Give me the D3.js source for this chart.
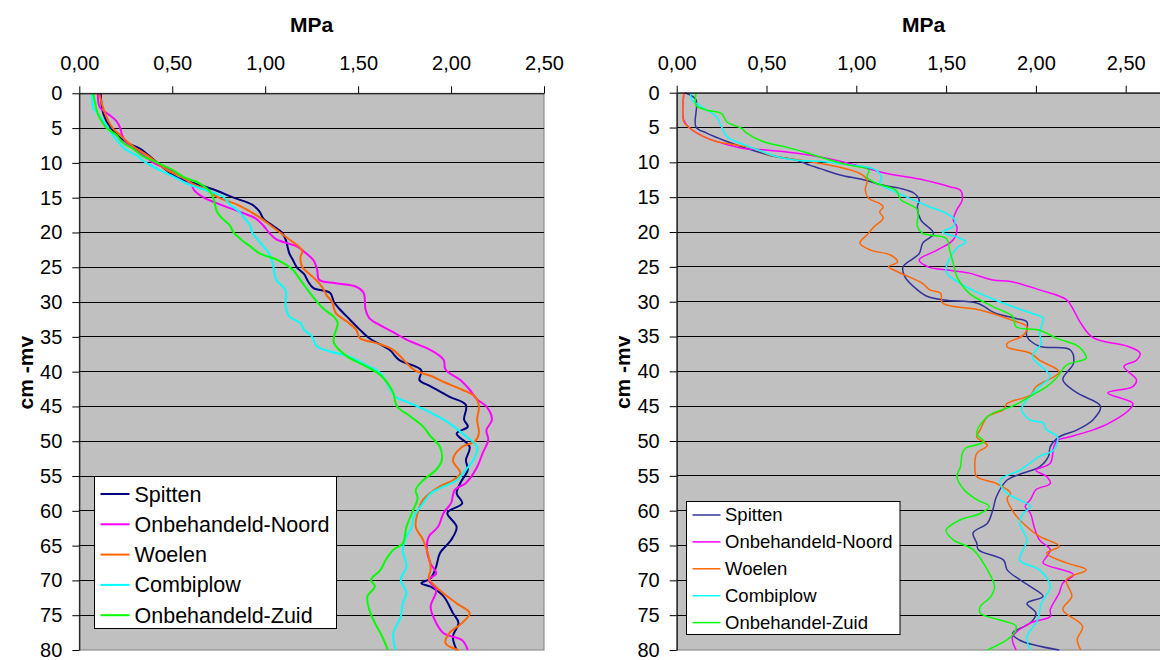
<!DOCTYPE html>
<html lang="en">
<head>
    <meta charset="UTF-8">
    <title>Penetrometer profiles</title>
    <script src="https://d3js.org/d3.v7.min.js"></script>
    <style>
        body {
            margin: 0;
            background: #fff;
            font-family: Arial, "Liberation Sans", sans-serif;
        }
        svg text {
            fill: #000;
        }
    </style>
</head>
<body>
    <svg id="chart" width="1160" height="660"></svg>

    <script>
        // depth (cm -mv) vs resistance (MPa)
        const seriesNames = ["Spitten", "Onbehandeld-Noord", "Woelen", "Combiplow", "Onbehandeld-Zuid"];
        const seriesNamesRight = ["Spitten", "Onbehandeld-Noord", "Woelen", "Combiplow", "Onbehandel-Zuid"];
        const depthTicks = d3.range(0, 81, 5);
        const depthLabels = depthTicks.map(String);
        const mpaTicks = [0, 0.5, 1, 1.5, 2, 2.5];
        const mpaLabels = ["0,00", "0,50", "1,00", "1,50", "2,00", "2,50"];

        // left panel
        const spittenL = [[0,0.115],[3,0.13],[5,0.17],[7,0.25],[8,0.33],[10,0.42],[12,0.52],[13,0.63],[14,0.74],[15,0.83],[16,0.93],[17,0.97],[18,0.99],[19,1.04],[20,1.09],[21,1.11],[22,1.12],[23,1.13],[24,1.15],[25,1.17],[26,1.21],[27,1.23],[28,1.26],[28.7,1.35],[30,1.37],[31,1.40],[32.5,1.455],[34,1.51],[35.2,1.56],[36.9,1.67],[38.3,1.72],[39.8,1.84],[41.2,1.83],[42.1,1.89],[43.6,1.99],[44.8,2.08],[46.9,2.07],[47.9,2.09],[48.9,2.03],[50.8,2.10],[52.7,2.08],[54.1,2.09],[56,2.05],[57.5,2.03],[58.9,2.06],[60.3,1.98],[62.3,2.03],[64.2,2.0],[66.1,1.94],[68,1.92],[69.7,1.89],[70.4,1.84],[70.9,1.89],[72.3,1.96],[74.7,2.01],[76.1,2.04],[78.1,2.01],[80,2.03]];
        const noordL = [[0,0.10],[2,0.11],[3,0.156],[4,0.2],[5,0.22],[6,0.23],[7,0.25],[8,0.30],[9,0.35],[10,0.40],[11,0.49],[12,0.55],[13,0.60],[14,0.62],[15,0.67],[16,0.76],[17,0.86],[18,0.95],[19,0.99],[20,1.02],[21,1.06],[22,1.17],[23,1.22],[24,1.26],[25.4,1.28],[26.8,1.29],[27.3,1.38],[27.8,1.49],[28.7,1.53],[31.1,1.54],[32.3,1.56],[33.5,1.63],[34.5,1.70],[35.4,1.76],[36.9,1.89],[38.3,1.96],[39.7,1.97],[41.2,2.05],[42.6,2.10],[44,2.14],[45,2.19],[46.9,2.22],[48.4,2.19],[49.8,2.20],[51.7,2.17],[53.7,2.14],[56,2.08],[57,2.02],[58.9,2.0],[60.3,1.96],[62.3,1.93],[63.7,1.88],[65.6,1.87],[67.6,1.89],[69,1.92],[69.9,1.88],[71.4,1.92],[73.8,1.89],[76.1,1.92],[77.6,1.96],[78.6,2.06],[80,2.09]];
        const woelenL = [[0,0.107],[3,0.14],[5,0.18],[6,0.22],[7,0.26],[8,0.31],[9,0.37],[10,0.42],[11,0.47],[12,0.55],[13,0.61],[14,0.69],[15,0.75],[16,0.85],[17,0.92],[18,0.98],[19,1.03],[20,1.08],[21,1.13],[22,1.18],[22.7,1.2],[23.5,1.19],[25,1.2],[26,1.24],[27,1.28],[28,1.31],[29,1.33],[30,1.36],[31.6,1.38],[32.8,1.44],[34,1.49],[35.2,1.51],[35.9,1.60],[36.9,1.69],[39.7,1.80],[40.7,1.90],[41.6,1.97],[42.6,2.06],[43.6,2.13],[45,2.15],[46.9,2.14],[48.8,2.15],[50,2.13],[50.8,2.06],[52.7,2.01],[54.6,2.05],[55.6,2.01],[56.5,1.94],[58.4,1.85],[60.3,1.82],[62.3,1.81],[64.2,1.85],[66.6,1.88],[68.5,1.89],[69.7,1.88],[71.4,1.94],[73.3,2.03],[74.7,2.10],[76.1,2.06],[77.6,1.99],[79,1.97],[80,2.04]];
        const combiL = [[0,0.07],[2,0.075],[3,0.10],[4,0.13],[5,0.155],[6,0.18],[7,0.21],[8,0.245],[9,0.31],[10,0.36],[11,0.43],[12,0.51],[13,0.58],[14,0.69],[15,0.78],[16,0.81],[17,0.86],[18,0.89],[19,0.92],[20,0.93],[21,0.96],[22,0.99],[23,1.02],[24.4,1.04],[26.8,1.06],[28.3,1.11],[30.6,1.11],[32.1,1.13],[33,1.19],[34,1.21],[34.9,1.25],[36.4,1.28],[37.1,1.35],[37.8,1.45],[39,1.54],[40.2,1.62],[41.4,1.65],[43.6,1.70],[44.3,1.76],[45.9,1.89],[47.4,1.99],[49.3,2.08],[50.8,2.14],[52.2,2.13],[54.1,2.08],[55.6,2.03],[56.5,1.96],[57.5,1.89],[58.9,1.85],[60.8,1.80],[62.3,1.79],[63.7,1.76],[65.6,1.74],[68,1.76],[69.9,1.73],[71.8,1.76],[73.3,1.74],[75.2,1.73],[77.6,1.69],[80,1.70]];
        const zuidL = [[0,0.075],[2,0.09],[3,0.10],[4,0.12],[5,0.147],[6,0.2],[7,0.23],[8,0.29],[9,0.34],[10,0.42],[11,0.5],[12,0.56],[13,0.65],[14,0.70],[15,0.72],[16,0.73],[17,0.74],[18,0.77],[19,0.81],[20,0.83],[21,0.87],[22,0.92],[23,0.97],[24,1.07],[25.4,1.15],[26.5,1.18],[28.3,1.23],[30,1.28],[31.1,1.32],[32.1,1.37],[33,1.39],[35,1.37],[35.9,1.37],[37.8,1.44],[38.8,1.51],[39.5,1.56],[40.5,1.62],[42.1,1.67],[43.1,1.69],[45,1.71],[46.4,1.78],[47.9,1.85],[49.3,1.89],[50.8,1.94],[52.7,1.95],[54.1,1.92],[55.6,1.85],[57,1.81],[58.2,1.82],[60.3,1.79],[62.3,1.76],[64.7,1.74],[65.6,1.69],[67,1.65],[68.5,1.62],[69.9,1.57],[70.9,1.59],[72.3,1.55],[74.2,1.56],[76.1,1.59],[78.1,1.63],[80,1.66]];

        // right panel
        const spittenR = [[0,0.046],[1,0.107],[4.9,0.107],[5.8,0.167],[7,0.28],[8,0.39],[9,0.52],[9.7,0.67],[10.4,0.74],[10.9,0.80],[11.8,0.91],[12.5,1.04],[13.3,1.15],[13.7,1.24],[14.4,1.32],[15.4,1.35],[16.4,1.34],[18.3,1.36],[20.2,1.43],[21.6,1.37],[23.1,1.35],[25,1.26],[26.4,1.27],[28.3,1.34],[29.3,1.40],[29.8,1.50],[30.2,1.67],[31.7,1.78],[32.4,1.89],[32.9,1.95],[35,1.95],[36.4,2.02],[36.9,2.19],[38.8,2.21],[41.2,2.15],[43.1,2.23],[45,2.36],[46.9,2.32],[48.4,2.23],[49.4,2.13],[50.8,2.08],[52.2,2.07],[53.7,2.02],[54.6,1.93],[55.6,1.84],[58,1.78],[59.9,1.76],[61.8,1.73],[63.2,1.65],[64.6,1.67],[65.6,1.68],[67.1,1.82],[68.5,1.84],[69.9,1.91],[70.9,1.97],[72.3,2.04],[73.3,1.95],[74.7,2.00],[76.1,1.97],[77.6,1.87],[78.6,1.91],[80,2.13]];
        const noordR = [[0,0.04],[4,0.04],[5.1,0.074],[6.3,0.15],[7.3,0.26],[8,0.37],[8.2,0.48],[8.7,0.67],[9.4,0.835],[10.4,1.0],[11.6,1.17],[12.5,1.37],[13.5,1.52],[14,1.58],[15.4,1.59],[16.8,1.56],[18.3,1.54],[19.2,1.56],[21.1,1.54],[22.6,1.45],[24,1.35],[25,1.40],[25.5,1.52],[25.9,1.63],[26.9,1.76],[27.1,1.86],[28.3,2.02],[29.7,2.17],[31.2,2.21],[33.1,2.25],[35.2,2.32],[36.4,2.51],[37.4,2.58],[38.4,2.56],[39.3,2.49],[41.2,2.56],[42.2,2.54],[43.1,2.40],[44.6,2.54],[45.5,2.52],[47.4,2.41],[48.4,2.32],[49.4,2.19],[49.9,2.12],[50.8,2.10],[53.2,2.08],[54.2,2.00],[55.1,2.06],[56.1,2.08],[57,2.0],[58.4,1.97],[59.4,1.94],[60.4,1.97],[62.3,1.99],[64.2,2.02],[65.6,2.08],[66.6,2.06],[67.5,2.04],[69.2,2.21],[70.4,2.15],[71.8,2.13],[74.2,2.08],[75.2,2.08],[76.1,1.97],[78.1,1.87],[80,1.89]];
        const woelenR = [[0,0.04],[4.2,0.04],[5.1,0.074],[6.3,0.15],[7,0.22],[7.5,0.33],[8,0.43],[9,0.52],[9.4,0.61],[9.9,0.74],[10.6,0.89],[11.6,1.02],[12.5,1.06],[14,1.05],[15.2,1.07],[15.9,1.13],[16.4,1.15],[17.1,1.13],[18,1.15],[19.2,1.10],[20.4,1.06],[21.6,1.02],[22.6,1.08],[23.3,1.19],[24.3,1.23],[25,1.18],[25.7,1.23],[27.4,1.37],[28.3,1.41],[28.8,1.47],[30.2,1.48],[31.2,1.69],[32.6,1.86],[33.6,1.95],[34.8,1.93],[36,1.84],[36.5,1.84],[37.4,1.97],[38.4,2.02],[40.1,2.13],[42.2,2.00],[43.4,1.97],[44.6,1.84],[45.5,1.82],[46.5,1.73],[48.4,1.69],[49.4,1.67],[50.6,1.73],[51.8,1.67],[53.7,1.66],[55.1,1.67],[56.1,1.78],[57.5,1.86],[58.2,1.84],[60.4,1.88],[62.3,1.95],[63.7,2.02],[65.1,2.13],[66.1,2.06],[67.5,2.17],[68.5,2.28],[69.9,2.17],[72.3,2.20],[74.2,2.15],[76.6,2.26],[78.5,2.23],[80,2.25]];
        const combiR = [[0,0.078],[1,0.084],[2.2,0.15],[3.4,0.22],[4.9,0.25],[6.3,0.28],[7,0.33],[8.2,0.45],[9.2,0.56],[9.7,0.67],[9.9,0.82],[10.4,0.98],[11.1,1.11],[12.3,1.14],[13,1.13],[14.4,1.23],[15.2,1.30],[16.4,1.41],[17.3,1.50],[18.3,1.55],[19.2,1.54],[20,1.48],[20.7,1.56],[21.4,1.61],[22.3,1.56],[23.8,1.52],[25.7,1.50],[27.4,1.58],[29.3,1.73],[30.7,1.87],[31.7,1.98],[32.4,2.04],[34.5,2.02],[35.9,2.03],[37.9,1.98],[39.3,2.03],[40.7,2.08],[42.2,2.02],[44.1,1.95],[45.5,1.92],[47,1.97],[47.4,2.04],[48.4,2.06],[49.4,2.12],[51.3,2.10],[52.2,2.02],[54.2,1.91],[55.6,1.80],[57,1.82],[58,1.87],[59.4,1.97],[60.4,1.93],[61.8,1.91],[64.2,1.95],[67.1,1.91],[68.5,2.02],[70.9,2.08],[73.3,2.03],[75.7,2.01],[78.1,1.95],[80,1.97]];
        const zuidR = [[0,0.108],[1.8,0.108],[2.5,0.167],[3,0.25],[4.2,0.28],[5.1,0.36],[5.8,0.39],[7,0.48],[7.7,0.59],[8.5,0.71],[9.4,0.82],[10.4,0.96],[11.1,1.07],[12.1,1.06],[13,1.11],[14,1.22],[15.4,1.25],[16.8,1.34],[19.2,1.34],[20.2,1.37],[20.9,1.50],[22.6,1.52],[24.5,1.54],[26.4,1.56],[28.8,1.63],[30.7,1.76],[32.1,1.87],[33.6,1.89],[34.1,2.02],[35.3,2.12],[36.3,2.23],[37,2.26],[38.1,2.28],[39.1,2.17],[40.8,2.12],[42.2,2.06],[43.1,2.0],[45,1.87],[46,1.76],[47,1.71],[48.9,1.67],[50.1,1.71],[51,1.61],[51.8,1.59],[53.7,1.58],[55.1,1.56],[57,1.60],[58.4,1.67],[59.4,1.74],[60.4,1.69],[61.3,1.58],[62.8,1.50],[64.2,1.54],[65.6,1.65],[68.5,1.73],[70.9,1.77],[72.3,1.75],[73.8,1.69],[74.7,1.69],[75.7,1.80],[76.6,1.89],[78.1,1.86],[80,1.73]];

        const svg = d3.select("#chart");

        function drawPanel(p) {
            const x = d3.scaleLinear().domain([0, p.xMax]).range([p.left, p.right]);
            const y = d3.scaleLinear().domain([0, 80]).range([p.top, p.bottom]);
            const g = svg.append("g");

            g.append("rect")
                .attr("x", p.left).attr("y", p.top)
                .attr("width", p.right - p.left).attr("height", p.bottom - p.top)
                .attr("fill", "#c0c0c0")
                .attr("stroke", "#808080");

            // horizontal gridlines
            g.selectAll(".grid")
                .data(depthTicks.filter(d => d > 0 && d < 80))
                .enter().append("line")
                .attr("x1", p.left).attr("x2", p.right)
                .attr("y1", d => y(d)).attr("y2", d => y(d))
                .attr("stroke", "#000")
                .attr("stroke-width", 1)
                .attr("shape-rendering", "crispEdges");

            const clipId = "clip" + p.id;
            svg.append("clipPath").attr("id", clipId)
                .append("rect")
                .attr("x", p.left).attr("y", p.top - 1)
                .attr("width", p.right - p.left).attr("height", p.bottom - p.top + 2);

            const line = d3.line()
                .x(d => x(d[1]))
                .y(d => y(d[0]))
                .curve(d3.curveCatmullRom.alpha(0.5));

            g.append("g").attr("clip-path", `url(#${clipId})`)
                .selectAll("path")
                .data(p.series)
                .enter().append("path")
                .attr("d", d => line(d))
                .attr("fill", "none")
                .attr("stroke", (d, i) => p.colors[i])
                .attr("stroke-width", p.lineWidth)
                .attr("stroke-linejoin", "round");

            // axes
            const xAxis = g.append("g")
                .attr("transform", `translate(0,${p.top})`)
                .call(d3.axisTop(x)
                    .tickValues(mpaTicks)
                    .tickFormat((d, i) => mpaLabels[i])
                    .tickSize(7).tickSizeOuter(0).tickPadding(16));
            const yAxis = g.append("g")
                .attr("transform", `translate(${p.left},0)`)
                .call(d3.axisLeft(y)
                    .tickValues(depthTicks)
                    .tickFormat((d, i) => depthLabels[i])
                    .tickSize(7).tickSizeOuter(0).tickPadding(10));
            [xAxis, yAxis].forEach(a => {
                a.selectAll("line").attr("stroke", "#000");
                a.select(".domain").attr("stroke", "#000");
                a.selectAll("text")
                    .attr("font-family", "Arial, 'Liberation Sans', sans-serif")
                    .attr("font-size", 20)
                    .attr("fill", "#000");
            });

            g.append("text")
                .attr("x", (p.left + p.right) / 2).attr("y", 32)
                .attr("text-anchor", "middle")
                .attr("font-size", 21).attr("font-weight", "bold")
                .text("MPa");

            g.append("text")
                .attr("transform", `translate(${p.left - 54},${(p.top + p.bottom) / 2 + 1}) rotate(-90)`)
                .attr("text-anchor", "middle")
                .attr("dy", "0.35em")
                .attr("font-size", 21).attr("font-weight", "bold")
                .text("cm -mv");

            // legend
            const lg = p.legend;
            g.append("rect")
                .attr("x", lg.x).attr("y", lg.y)
                .attr("width", lg.w).attr("height", lg.h)
                .attr("fill", "#fff").attr("stroke", "#000");
            const items = g.selectAll(".leg")
                .data(p.names)
                .enter().append("g")
                .attr("transform", (d, i) => `translate(${lg.x},${lg.y + lg.first + i * lg.step})`);
            items.append("line")
                .attr("x1", lg.lineX1).attr("x2", lg.lineX2)
                .attr("stroke", (d, i) => p.colors[i])
                .attr("stroke-width", p.lineWidth);
            items.append("text")
                .attr("x", lg.textX)
                .attr("dy", "0.35em")
                .attr("font-size", lg.font)
                .text(d => d);
        }

        drawPanel({
            id: "L", left: 79.3, right: 544, top: 93.3, bottom: 650, xMax: 2.5,
            series: [spittenL, noordL, woelenL, combiL, zuidL],
            names: seriesNames,
            colors: ["#000080", "#ff00ff", "#ff6600", "#00ffff", "#00ff00"],
            lineWidth: 2,
            legend: { x: 94.5, y: 476.5, w: 242, h: 152, first: 17.5, step: 30.3,
                      lineX1: 6, lineX2: 35, textX: 40, font: 21.5 }
        });

        drawPanel({
            id: "R", left: 676.7, right: 676.7 + 2.75 * 179.6, top: 92.7, bottom: 650, xMax: 2.75,
            series: [spittenR, noordR, woelenR, combiR, zuidR],
            names: seriesNamesRight,
            colors: ["#333399", "#ff00ff", "#ff6600", "#00ffff", "#00ff00"],
            lineWidth: 1.5,
            legend: { x: 686.5, y: 501.5, w: 213.5, h: 133, first: 13.5, step: 26.9,
                      lineX1: 6, lineX2: 34, textX: 38.5, font: 18.5 }
        });
    </script>
</body>
</html>
